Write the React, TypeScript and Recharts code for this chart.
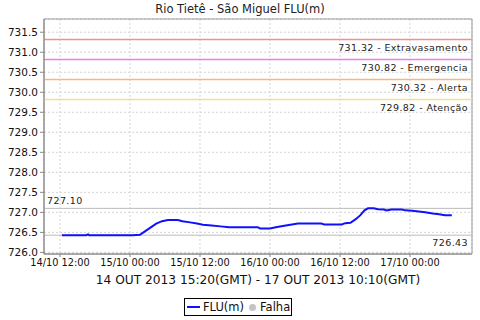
import React from "react";
import {
  LineChart,
  Line,
  XAxis,
  YAxis,
  CartesianGrid,
  ReferenceLine,
  ReferenceArea,
} from "recharts";

// hours since 14/10 00:00 (local), and FLU level in metres
const hours = [
  12.33, 16.5, 16.8, 17.0, 24.5, 25.7, 26.5, 27.5, 28.5, 29.5, 30.5, 32.2, 33.0,
  34.3, 35.5, 36.5, 38.0, 39.5, 41.0, 44.0, 45.9, 46.3, 48.0, 49.0, 50.2, 51.5,
  52.8, 56.8, 57.3, 60.3, 60.9, 61.8, 62.7, 63.5, 64.2, 64.8, 65.8, 66.5, 67.5,
  68.0, 68.8, 70.6, 71.2, 72.4, 73.5, 74.6, 75.9, 77.0, 78.0, 79.17,
];
const flu = [
  726.43, 726.43, 726.45, 726.43, 726.43, 726.44, 726.52, 726.62, 726.72, 726.78,
  726.81, 726.81, 726.78, 726.75, 726.72, 726.69, 726.67, 726.65, 726.63, 726.63,
  726.63, 726.6, 726.6, 726.63, 726.66, 726.69, 726.72, 726.72, 726.7, 726.7,
  726.73, 726.74, 726.83, 726.93, 727.05, 727.1, 727.1, 727.08, 727.07, 727.05,
  727.07, 727.07, 727.05, 727.04, 727.02, 727.0, 726.97, 726.95, 726.93, 726.93,
];

const xTicks = [12, 24, 36, 48, 60, 72];
const xTickLabels = [
  "14/10 12:00",
  "15/10 00:00",
  "15/10 12:00",
  "16/10 00:00",
  "16/10 12:00",
  "17/10 00:00",
];
const yTicks = [726, 726.5, 727, 727.5, 728, 728.5, 729, 729.5, 730, 730.5, 731, 731.5];

const levelValues = [731.32, 730.82, 730.32, 729.82];
const levelNames = ["Extravasamento", "Emergencia", "Alerta", "Atenção"];
const levelColors = ["#f09090", "#ea80ea", "#f5b880", "#f3e08c"];

const maxValue = 727.1;
const minValue = 726.43;

const data = hours.map((h, i) => ({ h, flu: flu[i] }));

const FONT = "'DejaVu Sans', sans-serif";

function LevelLabel(props: any) {
  const { viewBox, text } = props;
  return (
    <text
      x={viewBox.x + viewBox.width - 4}
      y={viewBox.y + 12}
      textAnchor="end"
      fontSize={9.5}
      fontFamily={FONT}
      fill="#222"
      letterSpacing={0.4}
    >
      {text}
    </text>
  );
}

function MaxLabel(props: any) {
  const { viewBox } = props;
  return (
    <text x={viewBox.x + 3} y={viewBox.y - 4} fontSize={9.5} fontFamily={FONT} fill="#222" letterSpacing={0.4}>
      {maxValue.toFixed(2)}
    </text>
  );
}

function MinLabel(props: any) {
  const { viewBox } = props;
  return (
    <text
      x={viewBox.x + viewBox.width - 4}
      y={viewBox.y + 11}
      textAnchor="end"
      fontSize={9.5}
      fontFamily={FONT}
      fill="#222"
      letterSpacing={0.4}
    >
      {minValue.toFixed(2)}
    </text>
  );
}

export default function App() {
  return (
    <div
      style={{
        position: "absolute",
        left: 0,
        top: 0,
        width: 480,
        height: 320,
        background: "#fff",
        fontFamily: FONT,
      }}
    >
      <div
        style={{
          position: "absolute",
          top: 2,
          width: 480,
          textAlign: "center",
          fontSize: 11.5,
          color: "#222",
        }}
      >
        Rio Tietê - São Miguel FLU(m)
      </div>
      <LineChart
        width={480}
        height={320}
        data={data}
        margin={{ top: 19, right: 8, left: 0, bottom: 0 }}
      >
        <CartesianGrid stroke="#d4d4d4" strokeDasharray="2 2" />
        <XAxis
          dataKey="h"
          type="number"
          domain={[9.26, 82.63]}
          ticks={xTicks}
          tickFormatter={(v) => xTickLabels[xTicks.indexOf(v)]}
          height={66}
          stroke="#888"
          tickSize={3}
          tick={{ fontSize: 9.8, fill: "#111", fontFamily: FONT }}
          interval={0}
          label={{
            value: "14 OUT 2013 15:20(GMT) - 17 OUT 2013 10:10(GMT)",
            position: "insideTop",
            offset: 21,
            fontSize: 12.2,
            fill: "#111",
            fontFamily: FONT,
          }}
        />
        <YAxis
          type="number"
          domain={[725.96, 731.83]}
          ticks={yTicks}
          tickFormatter={(v) => v.toFixed(1)}
          width={44}
          stroke="#888"
          tickSize={4}
          tick={{ fontSize: 10.5, fill: "#111", fontFamily: FONT }}
          interval={0}
        />
        <ReferenceArea y1={725.96} y2={731.83} fill="none" stroke="#999" strokeWidth={1} />
        {levelValues.map((v, i) => (
          <ReferenceLine
            key={levelNames[i]}
            y={v}
            stroke={levelColors[i]}
            strokeWidth={1.5}
            label={<LevelLabel text={`${v.toFixed(2)} - ${levelNames[i]}`} />}
          />
        ))}
        <ReferenceLine y={maxValue} stroke="#bbb" strokeWidth={1} label={<MaxLabel />} />
        <ReferenceLine y={minValue} stroke="#bbb" strokeWidth={1} label={<MinLabel />} />
        <Line
          dataKey="flu"
          type="linear"
          stroke="#1010ff"
          strokeWidth={2}
          dot={false}
          isAnimationActive={false}
        />
      </LineChart>
      <div
        style={{
          position: "absolute",
          left: 184,
          top: 298,
          width: 108,
          height: 18,
          border: "1px solid #000",
          boxSizing: "border-box",
          display: "flex",
          alignItems: "center",
          fontSize: 11.5,
          color: "#111",
          paddingLeft: 2,
          whiteSpace: "nowrap",
        }}
      >
        <span style={{ display: "inline-block", width: 13, height: 2, background: "#1010ff", marginRight: 3 }} />
        <span>FLU(m)</span>
        <span
          style={{
            display: "inline-block",
            width: 7,
            height: 7,
            borderRadius: 4,
            background: "#c4c4c4",
            margin: "0 4px 0 5px",
          }}
        />
        <span>Falha</span>
      </div>
    </div>
  );
}
